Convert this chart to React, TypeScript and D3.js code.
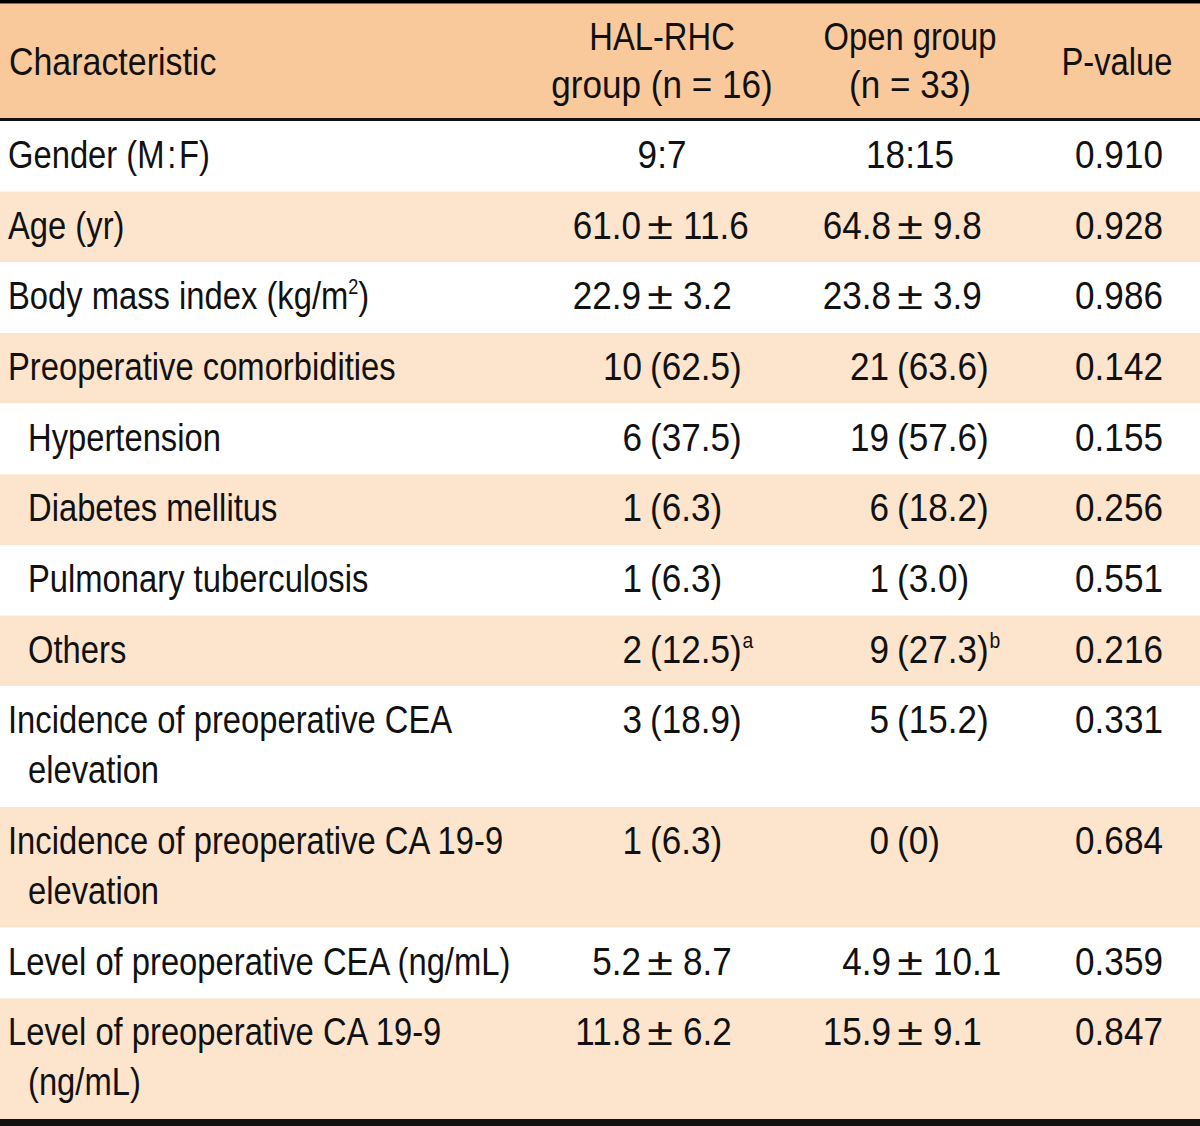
import React from "react";
import * as d3 from "d3";

// ---------- data ----------
const headerLabels = ["Characteristic", "HAL-RHC\ngroup (n = 16)", "Open group\n(n = 33)", "P-value"];

// label lines; "^x" marks a superscript
const characteristics = [
  ["Gender (M\u200A:\u200AF)"],
  ["Age (yr)"],
  ["Body mass index (kg/m^2)"],
  ["Preoperative comorbidities"],
  ["Hypertension"],
  ["Diabetes mellitus"],
  ["Pulmonary tuberculosis"],
  ["Others"],
  ["Incidence of preoperative CEA", "elevation"],
  ["Incidence of preoperative CA 19-9", "elevation"],
  ["Level of preoperative CEA (ng/mL)"],
  ["Level of preoperative CA 19-9", "(ng/mL)"],
];
const subItem = [false, false, false, false, true, true, true, true, false, false, false, false];

const halValues = ["9:7", "61.0 ± 11.6", "22.9 ± 3.2", "10 (62.5)", "6 (37.5)", "1 (6.3)", "1 (6.3)", "2 (12.5)", "3 (18.9)", "1 (6.3)", "5.2 ± 8.7", "11.8 ± 6.2"];
const halNotes = ["", "", "", "", "", "", "", "a", "", "", "", ""];
const openValues = ["18:15", "64.8 ± 9.8", "23.8 ± 3.9", "21 (63.6)", "19 (57.6)", "6 (18.2)", "1 (3.0)", "9 (27.3)", "5 (15.2)", "0 (0)", "4.9 ± 10.1", "15.9 ± 9.1"];
const openNotes = ["", "", "", "", "", "", "", "b", "", "", "", ""];
const pValues = ["0.910", "0.928", "0.986", "0.142", "0.155", "0.256", "0.551", "0.216", "0.331", "0.684", "0.359", "0.847"];

// ---------- layout ----------
const W = 1200;
const H = 1126;
const FONT = "'Liberation Sans', Arial, sans-serif";
const FS = 39;
const SX = 0.84; // condensed look for words
const SXN = 0.9; // figures are a little wider
const HEADER_BG = "#F9C99C";
const STRIPE_BG = "#FDE4CC";
const INK = "#111";

const headerTop = 3.5;
const headerBottom = 118;
const bodyTop = 121;
const bodyBottom = 1119;
const lineGap = 50;

const colCenters = { hal: 662, open: 910, p: 1119 };
const pmCenter = { hal: 660, open: 910 };
const countEnd = { hal: 642, open: 889 };

function T({ x, y, anchor = "start", sx = SX, children }: any) {
  return (
    <text
      transform={`translate(${x},${y}) scale(${sx},1)`}
      textAnchor={anchor}
      fontFamily={FONT}
      fontSize={FS}
      fill={INK}
    >
      {children}
    </text>
  );
}

function Sup({ s }: { s: string }) {
  if (!s) return null;
  return (
    <tspan fontSize={FS * 0.55} dy={-15} dx={1}>{s}</tspan>
  );
}

function renderLabel(line: string, key: string, x: number, y: number) {
  const parts = line.split(/\^(\w)/);
  return (
    <T key={key} x={x} y={y}>
      {parts.map((p, i) =>
        i % 2 === 1 ? (
          <tspan key={i} fontSize={FS * 0.55} dy={-15}>{p}</tspan>
        ) : (
          <tspan key={i} dy={i > 0 ? 15 : 0}>{p}</tspan>
        )
      )}
    </T>
  );
}

function renderValue(v: string, note: string, col: "hal" | "open", y: number, key: string) {
  if (v.includes("±")) {
    const [a, b] = v.split("±").map((s) => s.trim());
    const c = pmCenter[col];
    return (
      <g key={key}>
        <T x={c - 19} y={y} anchor="end" sx={SXN}>{a}</T>
        <T x={c} y={y} anchor="middle" sx={1.2}>±</T>
        <T x={c + 23} y={y} sx={SXN}>{b}<Sup s={note} /></T>
      </g>
    );
  }
  const m = v.match(/^(\d+) (\(.*\))$/);
  if (m) {
    const e = countEnd[col];
    return (
      <g key={key}>
        <T x={e} y={y} anchor="end" sx={SXN}>{m[1]}</T>
        <T x={e + 8} y={y} sx={SXN}>{m[2]}<Sup s={note} /></T>
      </g>
    );
  }
  return (
    <T key={key} x={colCenters[col]} y={y} anchor="middle" sx={SXN}>{v}<Sup s={note} /></T>
  );
}

export default function App() {
  // row heights from the number of label lines
  const units = characteristics.map((l) => l.length);
  const extraLines = d3.sum(units) - units.length;
  const singleH = (bodyBottom - bodyTop - extraLines * lineGap) / units.length;
  const heights = units.map((u) => singleH + (u - 1) * lineGap);
  const tops = heights.map((_, i) => bodyTop + d3.sum(heights.slice(0, i)));

  const [hCh, hHal, hOpen, hP] = headerLabels.map((s) => s.split("\n"));
  const lineSx = (l: string) => (/\d/.test(l) ? 0.9 : SX);

  return (
    <svg width={W} height={H} style={{ position: "absolute", left: 0, top: 0, background: "#fff" }}>
      {/* header */}
      <rect x={0} y={headerTop} width={W} height={headerBottom - headerTop} fill={HEADER_BG} />
      <rect x={0} y={0} width={W} height={headerTop} fill="#000" />
      <rect x={0} y={headerBottom} width={W} height={bodyTop - headerBottom} fill="#111" />
      <T x={9} y={75} sx={0.87}>{hCh[0]}</T>
      {hHal.map((l, i) => (
        <T key={"hh" + i} x={colCenters.hal} y={50 + i * 48} anchor="middle" sx={lineSx(l)}>{l}</T>
      ))}
      {hOpen.map((l, i) => (
        <T key={"ho" + i} x={colCenters.open} y={50 + i * 48} anchor="middle" sx={lineSx(l)}>{l}</T>
      ))}
      <T x={1117} y={75} anchor="middle">{hP[0]}</T>

      {/* body */}
      {characteristics.map((lines, i) => {
        const top = tops[i];
        const base = top + 47;
        return (
          <g key={i}>
            <rect x={0} y={top} width={W} height={heights[i]} fill={i % 2 === 1 ? STRIPE_BG : "#fff"} />
            {lines.map((l, j) =>
              renderLabel(l, "l" + j, (subItem[i] || j > 0 ? 28 : 8), base + j * lineGap)
            )}
            {renderValue(halValues[i], halNotes[i], "hal", base, "h")}
            {renderValue(openValues[i], openNotes[i], "open", base, "o")}
            <T x={colCenters.p} y={base} anchor="middle" sx={SXN}>{pValues[i]}</T>
          </g>
        );
      })}
      <rect x={0} y={bodyBottom} width={W} height={H - bodyBottom} fill="#111" />
    </svg>
  );
}
